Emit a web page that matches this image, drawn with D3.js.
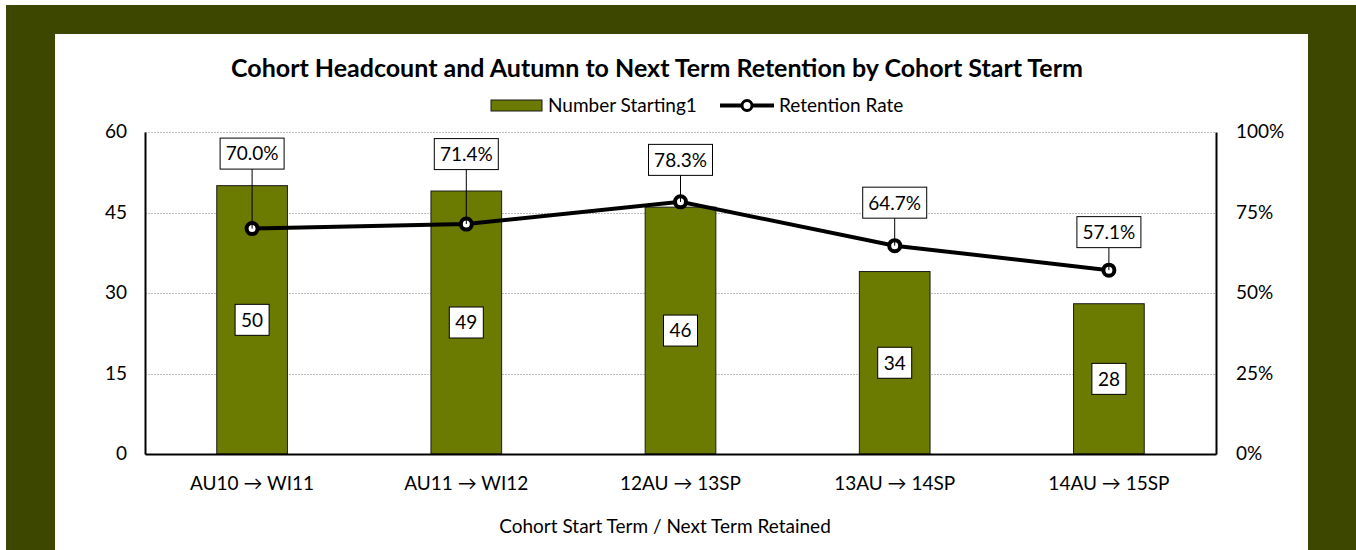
<!DOCTYPE html>
<html>
<head>
<meta charset="utf-8">
<script src="https://cdn.jsdelivr.net/npm/d3@7"></script>
<style>
  body { margin: 0; background: #fff; }
  text { font-family: Lato, "Open Sans", sans-serif; fill: #000; }
</style>
</head>
<body>
<div id="chart"></div>
<script>
// categories and series
var terms = ["AU10 \u2192 WI11", "AU11 \u2192 WI12", "12AU \u2192 13SP", "13AU \u2192 14SP", "14AU \u2192 15SP"];
var numStarting = [50, 49, 46, 34, 28];
var retention = [0.700, 0.714, 0.783, 0.647, 0.571];
var leftTicks = [0, 15, 30, 45, 60];
var rightTicks = [0, 0.25, 0.5, 0.75, 1];

// how far each % label sits above its point (px), hand placed like in the original
var labelLift = [75, 70, 42, 43, 38];

let svg = d3.select("#chart")
            .append("svg")
            .attr("width", 1356)
            .attr("height", 550);

// frame
svg.append("rect").attr("x", 6).attr("y", 5).attr("width", 1350).attr("height", 545).attr("fill", "#3d4700");
svg.append("rect").attr("x", 55).attr("y", 34).attr("width", 1253).attr("height", 516).attr("fill", "#fff");

let pLeft = 145, pRight = 1216, pTop = 132, pBottom = 454;

let x = d3.scaleBand().domain(terms).range([pLeft, pRight]).paddingInner(0.67).paddingOuter(0.335);
let xc = d => x(d) + x.bandwidth() / 2;
let y = d3.scaleLinear().domain([0, 60]).range([pBottom, pTop]);
let y2 = d3.scaleLinear().domain([0, 1]).range([pBottom, pTop]);

// gridlines
svg.append("g")
  .selectAll("line")
  .data(leftTicks.slice(1))
  .enter()
  .append("line")
  .attr("x1", pLeft).attr("x2", pRight)
  .attr("y1", d => Math.round(y(d)) + 0.5).attr("y2", d => Math.round(y(d)) + 0.5)
  .style("stroke", "#c0c0c0")
  .style("stroke-dasharray", "2,1");

// bars
svg.append("g")
  .selectAll("rect")
  .data(numStarting)
  .enter()
  .append("rect")
  .attr("x", (d, i) => x(terms[i]))
  .attr("y", d => y(d))
  .attr("width", x.bandwidth())
  .attr("height", d => pBottom - y(d))
  .style("fill", "#6b7a00")
  .style("stroke", "#1a1a1a")
  .style("stroke-width", 1);

// axes
let axL = svg.append("g").attr("transform", `translate(${pLeft},0)`)
  .call(d3.axisLeft(y).tickValues(leftTicks).tickSize(0).tickPadding(18));
let axR = svg.append("g").attr("transform", `translate(${pRight},0)`)
  .call(d3.axisRight(y2).tickValues(rightTicks).tickSize(0).tickPadding(20).tickFormat(d3.format(".0%")));
let axB = svg.append("g").attr("transform", `translate(0,${pBottom})`)
  .call(d3.axisBottom(x).tickSize(0).tickPadding(23));
[axL, axR, axB].forEach(a => {
  a.select(".domain").style("stroke", "#000").style("stroke-width", 2);
  a.selectAll("text").style("font-size", "19px").style("fill", "#000")
   .style("font-family", "Lato, 'Open Sans', sans-serif");
});
axL.selectAll("text").attr("dy", "0.3em");
axR.selectAll("text").attr("text-anchor", "start").attr("dy", "0.3em");

// bar value labels
let barLab = svg.append("g").selectAll("g").data(numStarting).enter().append("g")
  .attr("transform", (d, i) => `translate(${xc(terms[i])},${(y(d) + pBottom) / 2})`);
barLab.append("rect").attr("x", -17).attr("y", -15.5).attr("width", 34).attr("height", 31)
  .style("fill", "#fff").style("stroke", "#000");
barLab.append("text").attr("text-anchor", "middle").attr("dy", "0.36em")
  .style("font-size", "19px").text(d => d);

// leader lines for % labels
svg.append("g").selectAll("line").data(retention).enter().append("line")
  .attr("x1", (d, i) => xc(terms[i])).attr("x2", (d, i) => xc(terms[i]))
  .attr("y1", (d, i) => y2(d) - labelLift[i] + 15).attr("y2", d => y2(d))
  .style("stroke", "#000").style("stroke-width", 1);

// retention line
let line = d3.line().x((d, i) => xc(terms[i])).y(d => y2(d));
svg.append("path").datum(retention).attr("d", line)
  .style("fill", "none").style("stroke", "#000").style("stroke-width", 4);

svg.append("g").selectAll("circle").data(retention).enter().append("circle")
  .attr("cx", (d, i) => xc(terms[i])).attr("cy", d => y2(d)).attr("r", 5.5)
  .style("fill", "#fff").style("stroke", "#000").style("stroke-width", 4);
svg.append("g").selectAll("line").data(retention).enter().append("line")
  .attr("x1", (d, i) => xc(terms[i])).attr("x2", (d, i) => xc(terms[i]))
  .attr("y1", d => y2(d) - 4).attr("y2", d => y2(d))
  .style("stroke", "#000").style("stroke-width", 1);

// % labels
let pctLab = svg.append("g").selectAll("g").data(retention).enter().append("g")
  .attr("transform", (d, i) => `translate(${xc(terms[i])},${y2(d) - labelLift[i]})`);
pctLab.append("rect").attr("x", -32).attr("y", -15.5).attr("width", 64).attr("height", 31)
  .style("fill", "#fff").style("stroke", "#000");
pctLab.append("text").attr("text-anchor", "middle").attr("dy", "0.36em")
  .style("font-size", "19px").text(d => d3.format(".1%")(d));

// title
svg.append("text").attr("x", 657).attr("y", 77).attr("text-anchor", "middle")
  .style("font-size", "25px").style("font-weight", "bold")
  .text("Cohort Headcount and Autumn to Next Term Retention by Cohort Start Term");

// legend
let leg = svg.append("g");
leg.append("rect").attr("x", 491).attr("y", 100).attr("width", 51).attr("height", 11)
  .style("fill", "#6b7a00").style("stroke", "#1a1a1a");
leg.append("text").attr("x", 548).attr("y", 112).style("font-size", "19px").text("Number Starting1");
leg.append("line").attr("x1", 720).attr("x2", 774).attr("y1", 105.5).attr("y2", 105.5)
  .style("stroke", "#000").style("stroke-width", 4);
leg.append("circle").attr("cx", 747).attr("cy", 105.5).attr("r", 5)
  .style("fill", "#fff").style("stroke", "#000").style("stroke-width", 3);
leg.append("text").attr("x", 779).attr("y", 112).style("font-size", "19px").text("Retention Rate");

// x axis title
svg.append("text").attr("x", 665).attr("y", 533).attr("text-anchor", "middle")
  .style("font-size", "19px").text("Cohort Start Term / Next Term Retained");
</script>
</body>
</html>
